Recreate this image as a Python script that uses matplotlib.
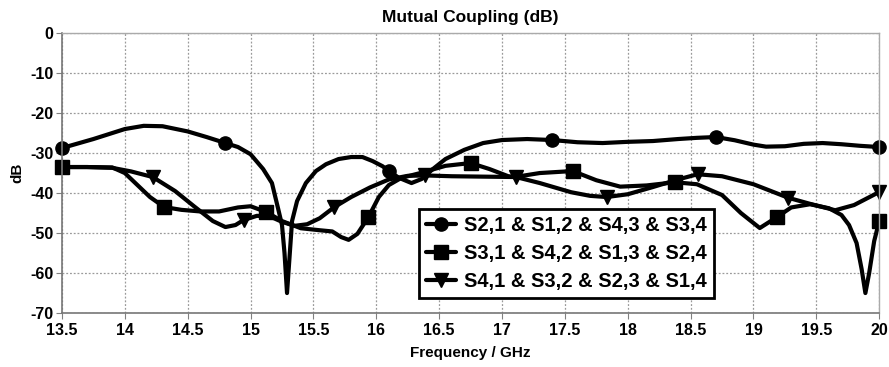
import numpy as np
import matplotlib
matplotlib.use("Agg")
import matplotlib.pyplot as plt

plt.rcParams['font.family'] = ['Liberation Sans', 'DejaVu Sans']
plt.rcParams['font.weight'] = 'bold'
plt.rcParams['axes.unicode_minus'] = False

# S2,1 & S1,2 & S4,3 & S3,4
f_s21 = [13.5, 13.75, 14.0, 14.15, 14.3, 14.5, 14.65, 14.8, 14.9, 15.0, 15.1, 15.17,
         15.22, 15.25, 15.27, 15.29, 15.31, 15.33, 15.37, 15.44, 15.52, 15.6, 15.7,
         15.8, 15.89, 15.97, 16.05, 16.1, 16.18, 16.28, 16.36, 16.45, 16.55, 16.7,
         16.85, 17.0, 17.2, 17.4, 17.6, 17.8, 18.0, 18.2, 18.4, 18.55, 18.7, 18.85,
         19.0, 19.1, 19.25, 19.4, 19.55, 19.7, 19.85, 20.0]
db_s21 = [-28.75, -26.5, -24.0, -23.2, -23.3, -24.6, -26.0, -27.5, -28.5, -30.3, -34.0, -37.5,
          -44.0, -48.0, -55.0, -65.0, -56.0, -47.0, -42.0, -37.5, -34.5, -32.8, -31.5,
          -31.0, -31.0, -32.0, -33.3, -34.5, -36.2, -37.5, -36.5, -34.0, -31.5, -29.2,
          -27.5, -26.75, -26.5, -26.75, -27.3, -27.5, -27.2, -27.0, -26.5, -26.2, -26.0, -26.8,
          -27.9, -28.4, -28.3, -27.7, -27.5, -27.8, -28.2, -28.5]
mk_s21 = [13.5, 14.8, 16.1, 17.4, 18.7, 20.0]

# S3,1 & S4,2 & S1,3 & S2,4
f_s31 = [13.5, 13.7, 13.9, 14.0, 14.1, 14.2, 14.3125, 14.45, 14.6, 14.75, 14.9, 15.0,
         15.125, 15.25, 15.4, 15.55, 15.65, 15.72, 15.78, 15.85, 15.9375, 16.02, 16.1,
         16.2, 16.35, 16.55, 16.75, 16.9, 17.05, 17.1, 17.3, 17.5625, 17.75, 17.94,
         18.15, 18.375, 18.55, 18.75, 18.9, 19.05, 19.1875, 19.3, 19.45, 19.6, 19.7,
         19.76, 19.82, 19.86, 19.89, 19.92, 19.96, 20.0]
db_s31 = [-33.5, -33.5, -33.6, -35.0, -38.0, -41.0, -43.5, -44.2, -44.6, -44.6, -43.6, -43.3,
          -44.75, -47.0, -48.8, -49.3, -49.6, -51.0, -51.7, -50.2, -46.0, -41.0, -38.0,
          -36.2, -35.0, -33.2, -32.5, -34.0, -35.8, -36.0, -35.0, -34.5, -36.8, -38.4,
          -38.1, -37.3, -37.8, -40.5, -45.0, -48.75, -46.0, -43.6, -42.8, -43.8, -45.5,
          -48.0, -52.5, -59.0, -65.0, -60.0, -52.0, -47.0]
mk_s31 = [13.5, 14.3125, 15.125, 15.9375, 16.75, 17.5625, 18.375, 19.1875, 20.0]

# S4,1 & S3,2 & S2,3 & S1,4
f_s41 = [13.5, 13.7, 13.9, 14.05, 14.2222, 14.4, 14.55, 14.7, 14.8, 14.88, 14.9444,
         15.05, 15.15, 15.25, 15.35, 15.45, 15.55, 15.6667, 15.8, 15.95, 16.1, 16.25,
         16.3889, 16.6, 16.85, 17.1111, 17.3, 17.55, 17.7, 17.8333, 18.0, 18.2, 18.4,
         18.5556, 18.75, 19.0, 19.2778, 19.45, 19.65, 19.8, 20.0]
db_s41 = [-33.5, -33.5, -33.7, -34.6, -36.0, -39.5, -43.3, -47.0, -48.5, -48.0, -46.75,
          -45.7, -45.8, -47.2, -48.2, -47.8, -46.3, -43.5, -41.0, -38.6, -36.6, -35.7,
          -35.6, -35.8, -35.9, -36.0, -37.5, -39.8, -40.7, -41.0, -40.3, -38.5, -36.6,
          -35.3, -35.8, -37.8, -41.2, -42.7, -44.3, -43.0, -39.75]
mk_s41 = [14.2222, 14.9444, 15.6667, 16.3889, 17.1111, 17.8333, 18.5556, 19.2778, 20.0]

labels = ['S2,1 & S1,2 & S4,3 & S3,4',
          'S3,1 & S4,2 & S1,3 & S2,4',
          'S4,1 & S3,2 & S2,3 & S1,4']

fig = plt.figure(figsize=(8.89, 3.67), dpi=100)
ax = fig.add_axes([0.0697, 0.147, 0.9193, 0.763])

series = [(f_s21, db_s21, mk_s21, 'o', 9.5),
          (f_s31, db_s31, mk_s31, 's', 9.5),
          (f_s41, db_s41, mk_s41, 'v', 10)]
for (f, db, mk, m, ms), lab in zip(series, labels):
    idx = [int(i) for i in np.where(np.isin(f, mk))[0]]
    ax.plot(f, db, color='black', lw=3.0, marker=m, ms=ms, markevery=idx,
            label=lab, solid_joinstyle='round', solid_capstyle='round',
            clip_on=False)

ax.set_xlim(13.5, 20)
ax.set_ylim(-70, 0)
ax.set_xticks(np.arange(13.5, 20.01, 0.5))
ax.set_xticklabels(['13.5', '14', '14.5', '15', '15.5', '16', '16.5', '17',
                    '17.5', '18', '18.5', '19', '19.5', '20'])
ax.set_yticks(np.arange(-70, 1, 10))
ax.tick_params(axis='x', labelsize=11.5, length=4, color='#808080', pad=3)
ax.tick_params(axis='y', labelsize=11.5, length=4, color='#808080', pad=2)
ax.grid(True, ls=(0, (1.5, 1.5)), color='#9a9a9a', lw=0.9)

for s in ['left', 'bottom']:
    ax.spines[s].set_color('#777777')
    ax.spines[s].set_linewidth(1.2)
for s in ['top', 'right']:
    ax.spines[s].set_color('#aaaaaa')
    ax.spines[s].set_linewidth(1.0)

ax.set_title('Mutual Coupling (dB)', fontsize=12.5, fontweight='bold', pad=8)
ax.set_xlabel('Frequency / GHz', fontsize=11, fontweight='bold', labelpad=6)
ax.set_ylabel('dB', fontsize=11, fontweight='bold', labelpad=4)

leg = ax.legend(loc='lower left', bbox_to_anchor=(0.4245, 0.018),
                frameon=True, fancybox=False, framealpha=1, edgecolor='black',
                handlelength=1.5, handletextpad=0.4, borderpad=0.35,
                labelspacing=0.45, prop={'weight': 'bold', 'size': 14.5})
leg.get_frame().set_linewidth(2.0)

fig.savefig('out.png', dpi=100)
